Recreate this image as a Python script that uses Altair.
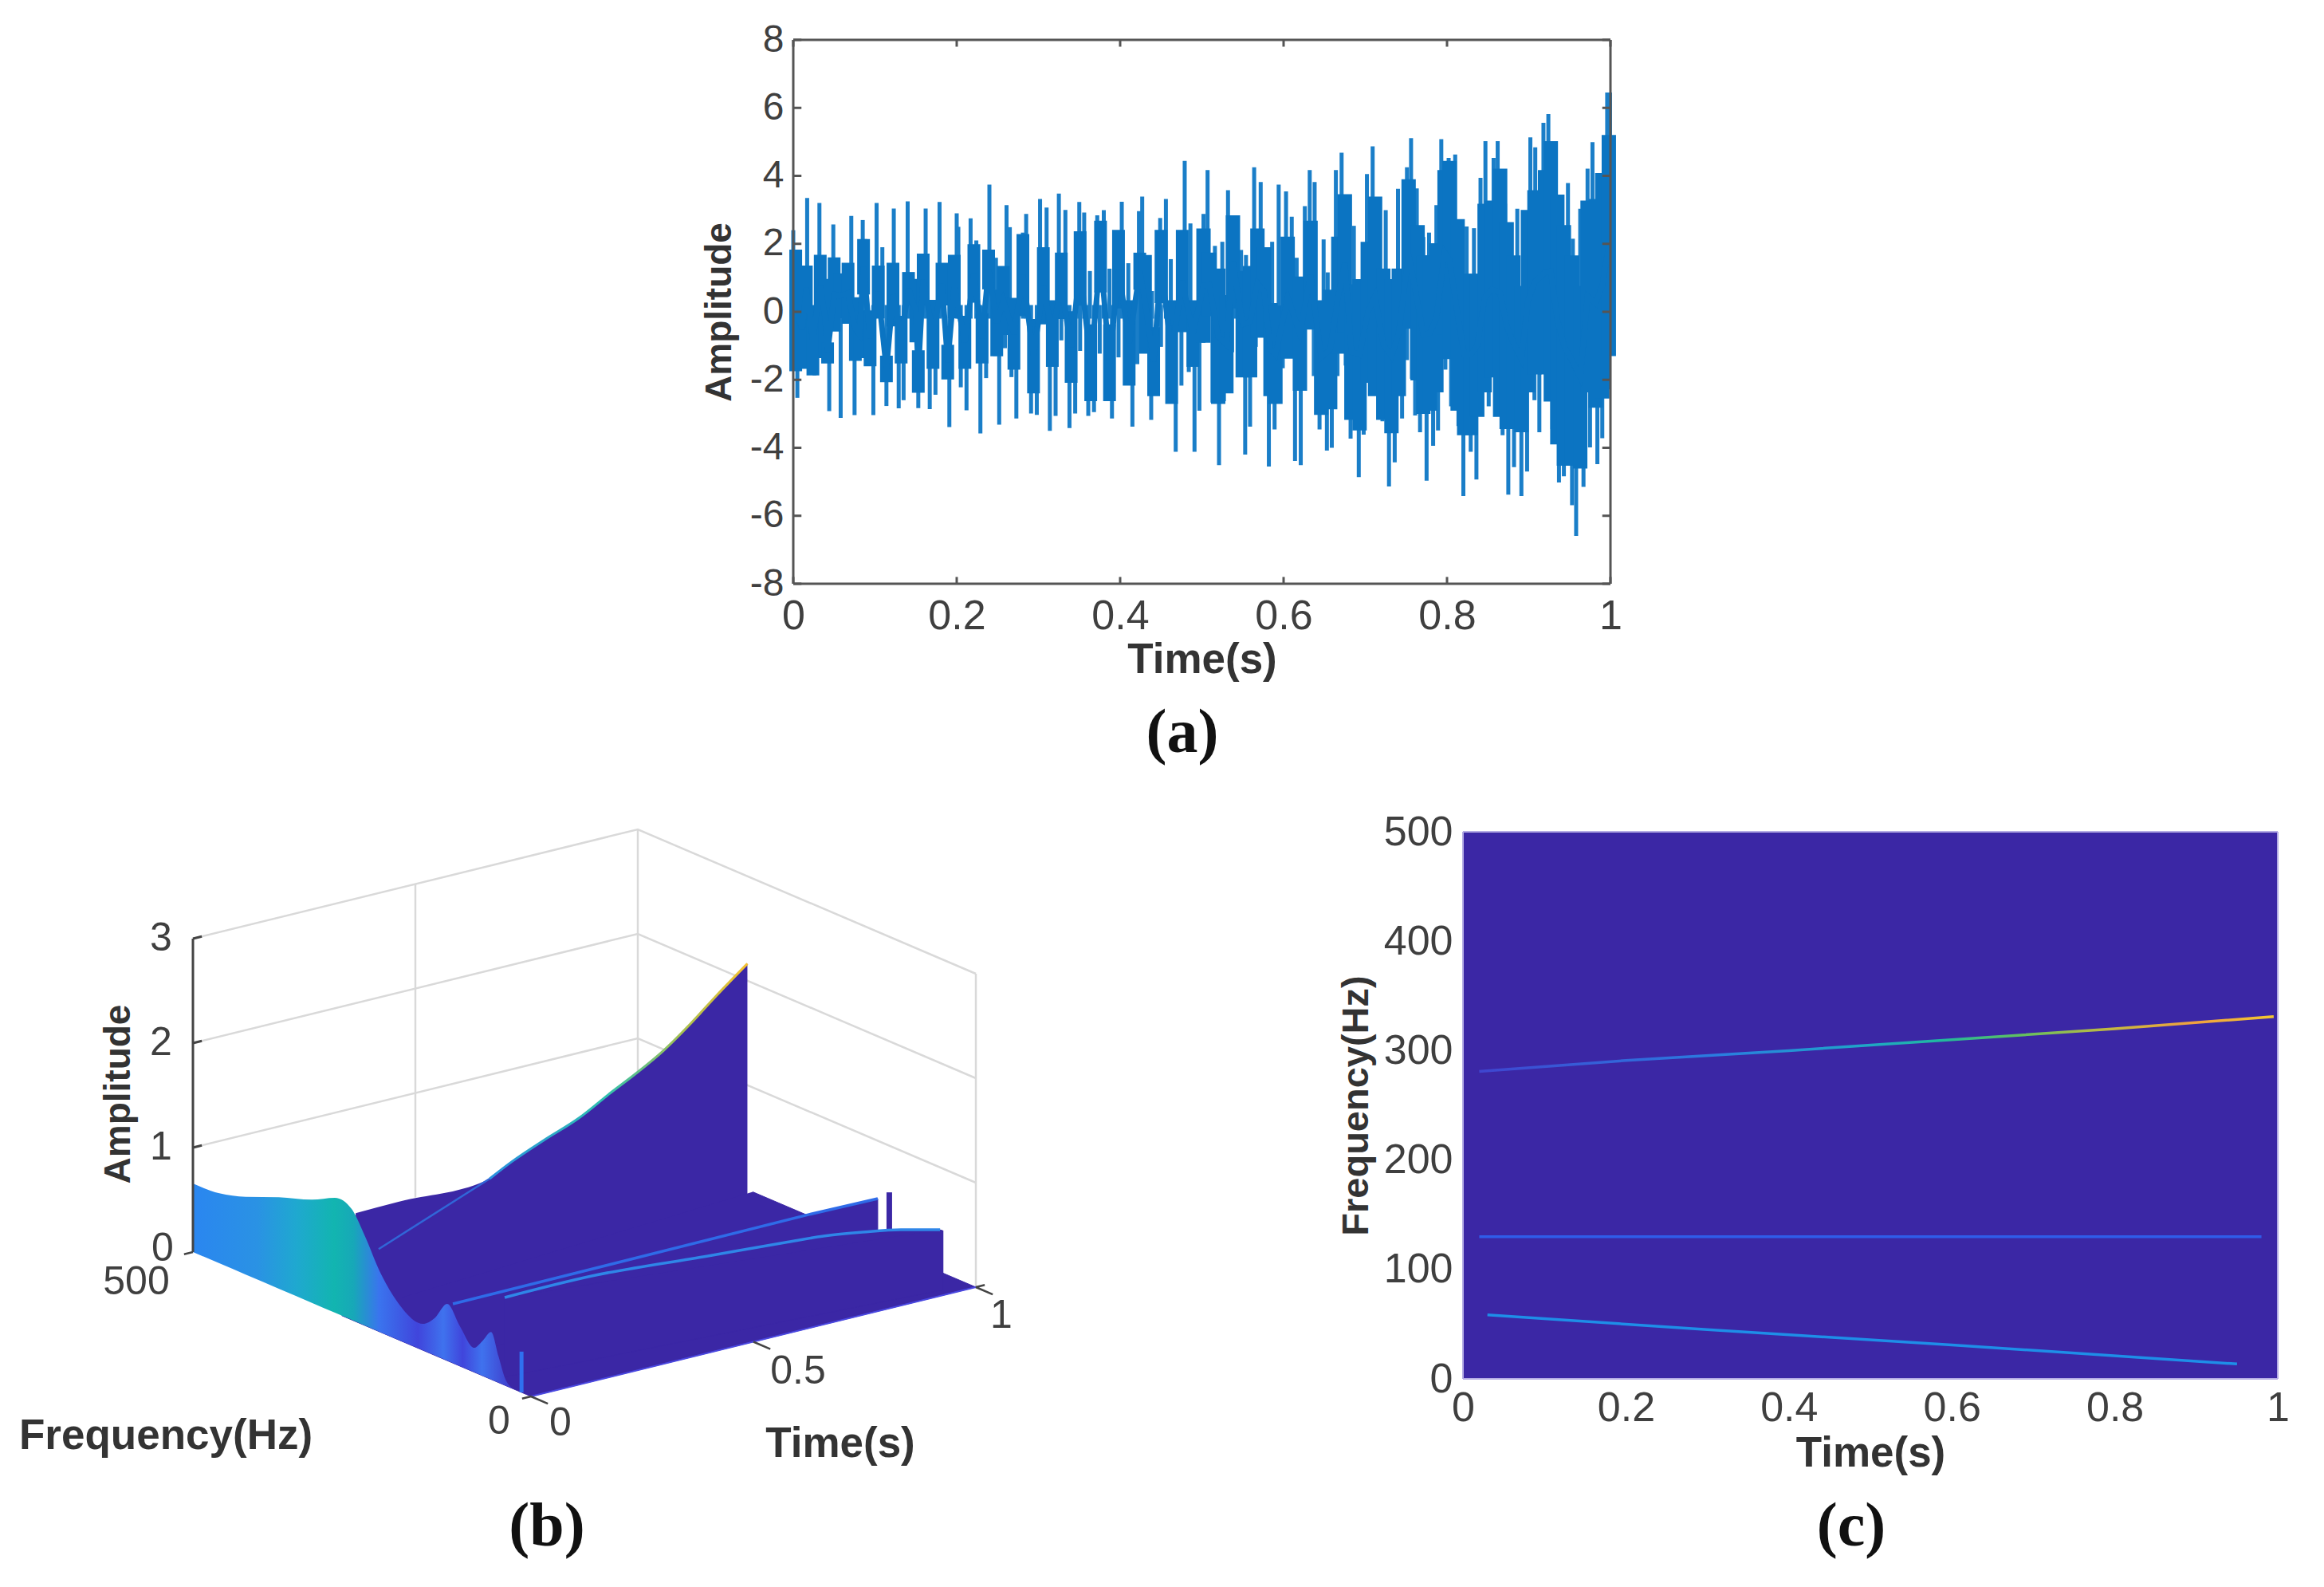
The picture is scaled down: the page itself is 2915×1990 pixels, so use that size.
import altair as alt
import pandas as pd

W, H = 2899, 1974
BLUE = "#0B74C2"
SPIKE = "#1A7EC8"
DARK = "#3B27A5"
TXT = "#3F3F3F"
FONT = "Liberation Sans"

# ---------- panel (a): hand-read signal: up peaks, down peaks, dense core
up_t = [0,.017,.032,.049,.071,.085,.088,.102,.109,.123,.14,.162,.179,.2,.202,.217,.224,.24,.248,.261,.265,.281,.285,.302,.31,.325,.333,.35,.356,.363,.372,.38,.387,.402,.41,.423,.427,.439,.449,.456,.462,.479,.486,.502,.507,.516,.525,.532,.541,.548,.554,.564,.572,.586,.594,.603,.61,.616,.626,.632,.638,.649,.654,.664,.671,.686,.702,.709,.717,.725,.74,.751,.756,.763,.771,.778,.787,.793,.802,.81,.824,.833,.841,.847,.857,.862,.871,.877,.886,.894,.902,.908,.918,.924,.932,.939,.948,.954,.963,.972,.978,.99,.996,.9995]
up_v = [2.4,3.35,3.2,2.57,2.82,2.7,2.14,3.2,1.9,3.04,3.25,3.04,3.23,2.9,2.5,2.75,2.1,3.74,1.59,3.14,2.49,2.33,2.88,3.32,3.07,3.48,3.0,3.23,2.92,1.2,2.84,2.99,1.27,3.24,1.43,2.96,3.39,.61,2.76,3.32,1.55,4.44,2.6,2.88,4.17,1.94,2.06,3.58,2.76,1.82,1.67,4.25,3.82,2.06,3.74,3.54,2.8,1.59,3.11,4.17,3.82,2.13,1.16,4.17,4.68,2.53,4.05,4.87,3.35,2.99,3.62,4.25,5.11,3.63,2.2,2.33,3.14,5.08,4.53,4.63,2.51,2.46,3.94,5.02,4.53,5.02,3.18,2.6,3.03,2.15,5.13,4.84,5.56,5.82,4.21,3.36,3.79,2.15,3.03,4.21,4.99,4.08,6.45,6.45]
dn_t = [.005,.026,.044,.058,.075,.098,.114,.129,.135,.153,.167,.174,.191,.205,.212,.229,.236,.247,.252,.259,.267,.273,.291,.298,.314,.321,.328,.338,.345,.351,.361,.368,.375,.39,.398,.415,.421,.438,.45,.468,.475,.484,.491,.497,.502,.513,.521,.527,.537,.553,.559,.566,.582,.589,.599,.614,.621,.637,.644,.653,.659,.666,.676,.682,.692,.698,.705,.714,.721,.729,.736,.745,.751,.757,.761,.767,.775,.783,.789,.798,.805,.814,.82,.829,.836,.843,.851,.86,.868,.875,.882,.891,.898,.907,.913,.922,.929,.937,.943,.953,.958,.967,.975,.984,.99,.997]
dn_v = [-2.53,-1.87,-2.92,-3.12,-3.04,-3.04,-2.77,-2.84,-2.6,-2.83,-2.86,-2.44,-3.39,-2.22,-2.9,-3.58,-1.95,-1.3,-3.32,-1.07,-1.92,-3.14,-2.99,-3.03,-3.5,-3.06,-.84,-3.42,-2.99,-1.15,-3.06,-2.95,-1.23,-3.14,-1.34,-3.38,-1.54,-3.18,-1.03,-4.12,-2.17,-1.77,-4.12,-2.91,-.91,-2.67,-4.51,-2.63,-1.19,-4.2,-3.38,-1.03,-4.55,-3.46,-1.66,-4.39,-4.51,-1.89,-3.46,-4.08,-4.0,-1.89,-1.58,-3.73,-4.86,-3.61,-2.09,-1.81,-3.22,-5.14,-4.43,-3.14,-1.42,-1.97,-3.05,-3.54,-4.97,-3.94,-3.49,-1.7,-2.78,-3.36,-5.42,-4.12,-4.93,-2.37,-2.78,-2.73,-3.63,-5.38,-4.57,-5.42,-4.7,-2.6,-3.54,-2.28,-3.45,-5.02,-4.84,-5.69,-6.59,-5.15,-3.99,-4.48,-3.72,-2.28]
core_t = [.003,.011,.016,.024,.033,.039,.042,.05,.057,.067,.076,.081,.086,.094,.104,.114,.122,.132,.141,.15,.153,.159,.171,.182,.189,.197,.21,.221,.231,.239,.249,.257,.27,.281,.294,.306,.317,.328,.34,.351,.364,.376,.387,.398,.411,.424,.431,.441,.45,.463,.476,.489,.502,.509,.52,.53,.538,.55,.559,.568,.576,.584,.59,.605,.62,.633,.646,.657,.667,.675,.683,.693,.703,.712,.722,.732,.741,.753,.764,.771,.779,.787,.797,.803,.813,.821,.829,.837,.846,.855,.865,.873,.881,.891,.899,.907,.92,.927,.935,.943,.953,.963,.972,.982,.99,.998]
core_hi = [1.83,.66,1.36,.19,1.68,.97,-.9,1.6,1.13,1.44,.43,.04,2.14,.04,1.36,-1.29,1.44,-.12,1.17,.97,-1.13,1.71,.35,1.44,-.97,1.68,-.12,1.99,-.04,1.83,.65,1.35,.41,2.29,-.21,1.9,.34,1.74,.02,2.37,-.37,2.68,-.37,2.41,.34,1.74,1.67,-.45,2.41,.34,2.41,.34,2.45,1.74,1.27,.49,2.84,1.2,1.35,2.45,1.9,.26,.18,2.21,1.04,2.68,.34,.65,2.21,3.46,.81,.96,2.06,3.39,1.27,.96,1.27,3.9,2.55,1.66,1.66,2.02,4.17,4.44,2.73,1.12,1.12,1.12,3.18,3.27,4.21,2.64,1.66,.76,3.0,3.58,4.17,5.02,3.45,2.55,1.66,.76,3.27,3.32,4.08,5.2]
core_lo = [-1.75,-1.68,.04,-1.87,-.12,-1.36,-1.52,-.58,-.19,-.35,-1.44,-1.36,.51,-1.6,-.19,-2.07,-.43,-1.52,.19,-.9,-2.38,.19,-1.68,.19,-1.99,-.19,-1.68,.27,-1.52,.66,-1.31,-.68,-1.7,-.13,-2.4,-.37,-1.62,-.21,-2.09,.18,-2.63,.57,-2.63,.1,-2.17,.65,-1.23,-2.48,.26,-2.71,-.6,-1.62,-.91,-.13,-2.71,-2.4,.1,-1.93,-1.93,-.76,-.68,-2.48,-2.71,-1.38,-2.32,-.52,-3.03,-2.87,-1.23,-.6,-3.18,-3.49,-2.09,-2.48,-3.18,-3.57,-2.48,-.5,-2.02,-3.0,-2.91,-2.37,-.67,-1.39,-2.91,-3.63,-3.63,-3.09,-2.37,-1.93,-3.09,-3.45,-3.45,-3.54,-2.37,-1.84,-1.84,-2.64,-3.9,-4.53,-4.53,-4.61,-2.37,-2.82,-2.55,-1.3]
a_xticks = [0, .2, .4, .6, .8, 1]
a_yticks = [-8, -6, -4, -2, 0, 2, 4, 6, 8]

# ---------- panel (c): ridges, time / frequency
c1_t = [.02, .2, .4, .6, .8, .995]
c1_f = [281, 291, 300, 310, 320, 331]
c2_t = [.02, .5, .98]
c2_f = [130, 130, 130]
c3_t = [.03, .3, .6, .95]
c3_f = [58.5, 45, 31, 13.6]
c_xticks = [0, .2, .4, .6, .8, 1]
c_yticks = [0, 100, 200, 300, 400, 500]

# ---------- panel (b): (t, f, amplitude) read from the 3-D view
r1_t = [.034, .138, .36, .414, .492, .577, .655, .713, .783, .849, .913, .987]
r1_a = [.94, .925, .884, .983, 1.096, 1.207, 1.359, 1.464, 1.61, 1.79, 1.987, 2.2]
thin_t = [.09, .36]
thin_a = [.53, .884]
r2_t = [.022, .821, .977]
r2_a = [.503, .522, .512]
r3_t = [.027, .209, .452, .614, .694, .776, .856, .938]
r3_a = [.762, .802, .772, .754, .742, .705, .656, .582]
wall_f = [500, 461, 422, 373, 324, 290, 265, 246, 222, 197, 160, 142, 124, 105, 84, 72, 59, 48, 39, 25]
wall_a = [.656, .67, .745, .876, .988, 1.10, 1.06, .86, .56, .355, .252, .36, .542, .38, .233, .33, .454, .25, .076, 0]
wall_offsets = [0, .2, .32, .44, .5, .58, .7, .78, .84, .9, 1]
wall_colors = ["#2A86F0", "#2A92E4", "#1FA8D0", "#12B5B0", "#17A8B8", "#3A74EE", "#4045DC", "#3F72EE", "#4045DC", "#3F72EE", "#4036C8"]


def proj(t, f, a):
    """oblique view of panel (b); screen position in the chart."""
    x = 666 + t * 558 - f / 500 * 424 - 8
    y = 1751 - t * 137 - f / 500 * 181 - a * 131 - 8
    return x, y


def poly(pts, name=""):
    rows = []
    for i, (t, f, a) in enumerate(pts):
        x, y = proj(t, f, a)
        rows.append({"px": x, "py": y, "i": i, "g": name})
    return pd.DataFrame(rows)


def band(pts, base=0):
    rows = []
    for t, f, a in pts:
        x, y = proj(t, f, a)
        rows.append({"px": x, "py": y, "py2": proj(t, f, base)[1]})
    return pd.DataFrame(rows)


def grad(colors, offsets, vertical=False):
    stops = [alt.GradientStop(color=c, offset=o) for c, o in zip(colors, offsets)]
    if vertical:
        return alt.LinearGradient(gradient="linear", stops=stops, x1=0, x2=0, y1=1, y2=0)
    return alt.LinearGradient(gradient="linear", stops=stops, x1=0, x2=1, y1=0, y2=0)


PX = alt.X("px:Q", scale=None, axis=None)
PY = alt.Y("py:Q", scale=None, axis=None)
ORD = alt.Order("i:Q")


def shape(pts, fill=DARK, stroke=DARK, sw=1):
    return alt.Chart(poly(pts)).mark_line(fill=fill, stroke=stroke, strokeWidth=sw).encode(x=PX, y=PY, order=ORD)


def path(pts, color, sw=2.5, **kw):
    return alt.Chart(poly(pts)).mark_line(stroke=color, strokeWidth=sw, **kw).encode(x=PX, y=PY, order=ORD)


def hill(pts, fill=DARK, base=0):
    return alt.Chart(band(pts, base)).mark_area(color=fill, interpolate="monotone").encode(x=PX, y=PY, y2="py2:Q")


# ---------- panel (a) chart
ax_x = alt.Scale(domain=[0, 1], range=[987, 2012], nice=False, zero=False)
ax_y = alt.Scale(domain=[-8, 8], range=[724, 42], nice=False, zero=False)
lab = "'' + datum.value"


def bottom_axis(vals, off, title, pad=15, tpad=3):
    return alt.Axis(values=vals, orient="bottom", offset=off, title=title, grid=False, domain=False, ticks=False,
                    labelExpr=lab, labelFont=FONT, labelFontSize=52, labelColor=TXT, labelPadding=pad,
                    labelFlush=False, labelOverlap=False,
                    titleFont=FONT, titleFontSize=53, titleFontWeight="bold", titleColor="#333333", titlePadding=tpad)


def left_axis(vals, off, title, size=48, pad=12, tpad=14, tsize=46):
    return alt.Axis(values=vals, orient="left", offset=off, title=title, grid=False, domain=False, ticks=False,
                    labelExpr=lab, labelFont=FONT, labelFontSize=size, labelColor=TXT, labelPadding=pad,
                    labelOverlap=False,
                    titleFont=FONT, titleFontSize=tsize, titleFontWeight="bold", titleColor="#333333", titlePadding=tpad)


core_df = pd.DataFrame({"t": core_t, "hi": core_hi, "lo": core_lo})
core_df["mid"] = (core_df.hi + core_df.lo) / 2
early = core_df[core_df.t < .5]
late = core_df[core_df.t >= .5]
up_df = pd.DataFrame({"t": up_t, "hi": up_v, "lo": [-.2] * len(up_v)})
dn_df = pd.DataFrame({"t": dn_t, "hi": [.2] * len(dn_v), "lo": dn_v})

a_core = alt.Chart(early).mark_rule(stroke=BLUE, strokeWidth=16).encode(
    x=alt.X("t:Q", scale=ax_x, axis=bottom_axis(a_xticks, -(H - 724), "Time(s)")),
    y=alt.Y("hi:Q", scale=ax_y, axis=left_axis(a_yticks, -987, "Amplitude")),
    y2="lo:Q")
a_late = alt.Chart(late).mark_rule(stroke=BLUE, strokeWidth=18).encode(
    x=alt.X("t:Q", scale=ax_x, axis=None), y=alt.Y("hi:Q", scale=ax_y, axis=None), y2="lo:Q")
a_mid = alt.Chart(core_df).mark_line(stroke=BLUE, strokeWidth=7).encode(
    x=alt.X("t:Q", scale=ax_x, axis=None), y=alt.Y("mid:Q", scale=ax_y, axis=None))
a_up = alt.Chart(up_df).mark_rule(stroke=SPIKE, strokeWidth=5).encode(
    x=alt.X("t:Q", scale=ax_x, axis=None), y=alt.Y("hi:Q", scale=ax_y, axis=None), y2="lo:Q")
a_dn = alt.Chart(dn_df).mark_rule(stroke=SPIKE, strokeWidth=5).encode(
    x=alt.X("t:Q", scale=ax_x, axis=None), y=alt.Y("hi:Q", scale=ax_y, axis=None), y2="lo:Q")


def frame(sx, sy, x0, x1, y0, y1, xt, yt, color, sw=3, tx=None, ty=None):
    e = pd.DataFrame({"x": [x0, x0, x0, x1], "x2": [x1, x1, x0, x1], "y": [y0, y1, y0, y0], "y2": [y0, y1, y1, y1]})
    layers = [alt.Chart(e).mark_rule(stroke=color, strokeWidth=sw).encode(
        x=alt.X("x:Q", scale=sx, axis=None), x2="x2:Q", y=alt.Y("y:Q", scale=sy, axis=None), y2="y2:Q")]
    if tx:
        ts = [{"x": v, "x2": v, "y": y0, "y2": y0 + ty} for v in xt] + [{"x": v, "x2": v, "y": y1, "y2": y1 - ty} for v in xt]
        ts += [{"x": x0, "x2": x0 + tx, "y": v, "y2": v} for v in yt] + [{"x": x1, "x2": x1 - tx, "y": v, "y2": v} for v in yt]
        layers.append(alt.Chart(pd.DataFrame(ts)).mark_rule(stroke=color, strokeWidth=sw).encode(
            x=alt.X("x:Q", scale=sx, axis=None), x2="x2:Q", y=alt.Y("y:Q", scale=sy, axis=None), y2="y2:Q"))
    return layers


panel_a = [a_up, a_dn, a_core, a_late, a_mid] + frame(ax_x, ax_y, 0, 1, -8, 8, a_xticks, a_yticks, "#555555", 3, .01, .2)

# ---------- panel (c) chart
cx = alt.Scale(domain=[0, 1], range=[1827, 2849], nice=False, zero=False)
cy = alt.Scale(domain=[0, 500], range=[1721, 1035], nice=False, zero=False)
c_bg = alt.Chart(pd.DataFrame({"x": [0], "x2": [1], "y": [0], "y2": [500]})).mark_rect(color=DARK).encode(
    x=alt.X("x:Q", scale=cx, axis=bottom_axis(c_xticks, -(H - 1721), "Time(s)", 11, 5)), x2="x2:Q",
    y=alt.Y("y:Q", scale=cy, axis=left_axis(c_yticks, -1827, "Frequency(Hz)", 52, 13, 10, 47)), y2="y2:Q")


def cline(ts, fs, stroke, sw=3):
    return alt.Chart(pd.DataFrame({"t": ts, "f": fs})).mark_line(stroke=stroke, strokeWidth=sw).encode(
        x=alt.X("t:Q", scale=cx, axis=None), y=alt.Y("f:Q", scale=cy, axis=None))


top_grad = grad(["#3F45D0", "#2A7DE0", "#1FA5C8", "#20B8A0", "#60C060", "#C8B840", "#F0A040", "#F2C830"],
                [0, .3, .48, .58, .68, .8, .9, 1])
edge_grad = grad(["#3F45D0", "#2F7BE8", "#18B8B0", "#25A8E0", "#25B0E0"], [0, .3, .56, .7, 1], vertical=True)
panel_c = [
    c_bg,
    cline(c1_t, c1_f, top_grad, 3.5),
    cline(c2_t, c2_f, "#2F5CEA", 3.5),
    cline(c3_t, c3_f, "#1E8EE8", 3.5),
    cline([.001, .001], [0, 500], edge_grad, 3),
] + frame(cx, cy, 0, 1, 0, 500, [], [], "#B4ACE4", 2)

# ---------- panel (b) chart
grid_lines = []
for a in (1, 2, 3):
    grid_lines.append([(0, 500, a), (1, 500, a), (1, 0, a)])
grid_lines.append([(.5, 500, 0), (.5, 500, 3)])
grid_lines.append([(1, 500, 0), (1, 500, 3)])
grid_lines.append([(1, 0, 0), (1, 0, 3)])
axis_lines = [
    [(0, 500, 0), (0, 500, 3)],
    [(0, 500, 3), (.02, 500, 3)], [(0, 500, 2), (.02, 500, 2)], [(0, 500, 1), (.02, 500, 1)],
    [(0, 500, 0), (0, 0, 0)], [(0, 0, 0), (1, 0, 0)],
    [(0, 0, 0), (0, -25, 0)], [(.5, 0, 0), (.5, -25, 0)], [(1, 0, 0), (1, -25, 0)],
    [(0, 0, 0), (-.02, 0, 0)], [(0, 500, 0), (-.02, 500, 0)], [(1, 0, 0), (1.02, 0, 0)],
]


def rf(t):
    return 280 + 50 * t


def r3f(t):
    return 58 - 49 * t


floor = [(1, rf(1), 0), (1, 0, 0), (0, 0, 0), (0, rf(0), 0)]
wall1 = [(t, rf(t), a) for t, a in zip(r1_t, r1_a)]
wall2 = [(t, 130, a) for t, a in zip(r2_t, r2_a)] + [(r2_t[-1], 130, 0), (r2_t[0], 130, 0)]
bar = [(1.003, 130, .545), (1.003, 130, .186)]
wall3 = [(t, r3f(t), a) for t, a in zip(r3_t, r3_a)] + [(.944, r3f(.944), .568)]
wall3_end = [(.944, r3f(.944), .568), (.944, r3f(.944), .156), (.944, r3f(.944), 0), (.027, r3f(.027), 0),
             (.027, r3f(.027), .762), (.938, r3f(.938), .582)]
curved = [(0, f, a) for f, a in zip(wall_f, wall_a)]
ridge_grad = grad(["#2A90E0", "#30C0B0", "#A8C050", "#F5C030"], [0, .45, .75, 1])

b_layers = [path(g, "#D9D9D9", 2.5) for g in grid_lines]
b_layers += [hill(wall1, DARK, -.05), shape(floor), shape(wall2), path(bar, DARK, 7), hill(wall3), shape(wall3_end)]
b_layers += [
    path([(t, rf(t), a) for t, a in zip(r1_t[2:], r1_a[2:])], ridge_grad, 3, interpolate="monotone"),
    path([(t, rf(t), a) for t, a in zip(thin_t, thin_a)], "#3166D8", 2.5),
    path([(t, 130, a) for t, a in zip(r2_t, r2_a)], "#2F6BE8", 3.5),
    path([(t, r3f(t), a) for t, a in zip(r3_t, r3_a)], "#2F86E8", 3.5, interpolate="monotone"),
    hill(curved, grad(wall_colors, wall_offsets)),
    path([(0, 14, 0), (0, 14, .39)], "#2F70F0", 5),
    path([(0, 0, 0), (1, 0, 0)], "#4A48E0", 2),
]
b_layers += [path(g, "#444444", 3) for g in axis_lines[:4]] + [path(g, "#444444", 2.5) for g in axis_lines[6:]]


def tk(t, f, a, s, dx, dy):
    x, y = proj(t, f, a)
    return {"px": x + dx, "py": y + dy, "s": s}


tick_rows = [tk(0, 500, 3, "3", -40, 0), tk(0, 500, 2, "2", -40, 0), tk(0, 500, 1, "1", -40, 0), tk(0, 500, 0, "0", -38, -4),
             tk(0, 500, 0, "500", -71, 38), tk(0, 0, 0, "0", -40, 32), tk(0, 0, 0, "0", 37, 34),
             tk(.5, 0, 0, "0.5", 56, 37), tk(1, 0, 0, "1", 32, 36)]
ticks_b = alt.Chart(pd.DataFrame(tick_rows)).mark_text(font=FONT, fontSize=50, color=TXT, align="center", baseline="middle").encode(
    x=PX, y=PY, text="s:N")


def note(text, x, y, size=53, weight="bold", font=FONT, color="#333333", angle=0):
    return alt.Chart(pd.DataFrame({"s": [text]})).mark_text(
        font=font, fontSize=size, fontWeight=weight, color=color, align="center", baseline="middle", angle=angle
    ).encode(x=alt.value(x), y=alt.value(y), text="s:N")


panel_b = b_layers + [ticks_b,
                      note("Amplitude", 141, 1364, 46, angle=270),
                      note("Frequency(Hz)", 200, 1793, 53),
                      note("Time(s)", 1046, 1803, 53)]

labels = [
    note("(a)", 1475, 912, 78, "bold", "Liberation Serif", "#111111"),
    note("(b)", 678, 1907, 78, "bold", "Liberation Serif", "#111111"),
    note("(c)", 2314, 1907, 78, "bold", "Liberation Serif", "#111111"),
]

chart = alt.layer(*(panel_a + panel_b + panel_c + labels)).resolve_scale(x="independent", y="independent").properties(
    width=W, height=H, padding=0, autosize="none", background="white"
).configure_view(stroke=None)

chart.save("out.html", embed_options={"renderer": "svg", "actions": False})
